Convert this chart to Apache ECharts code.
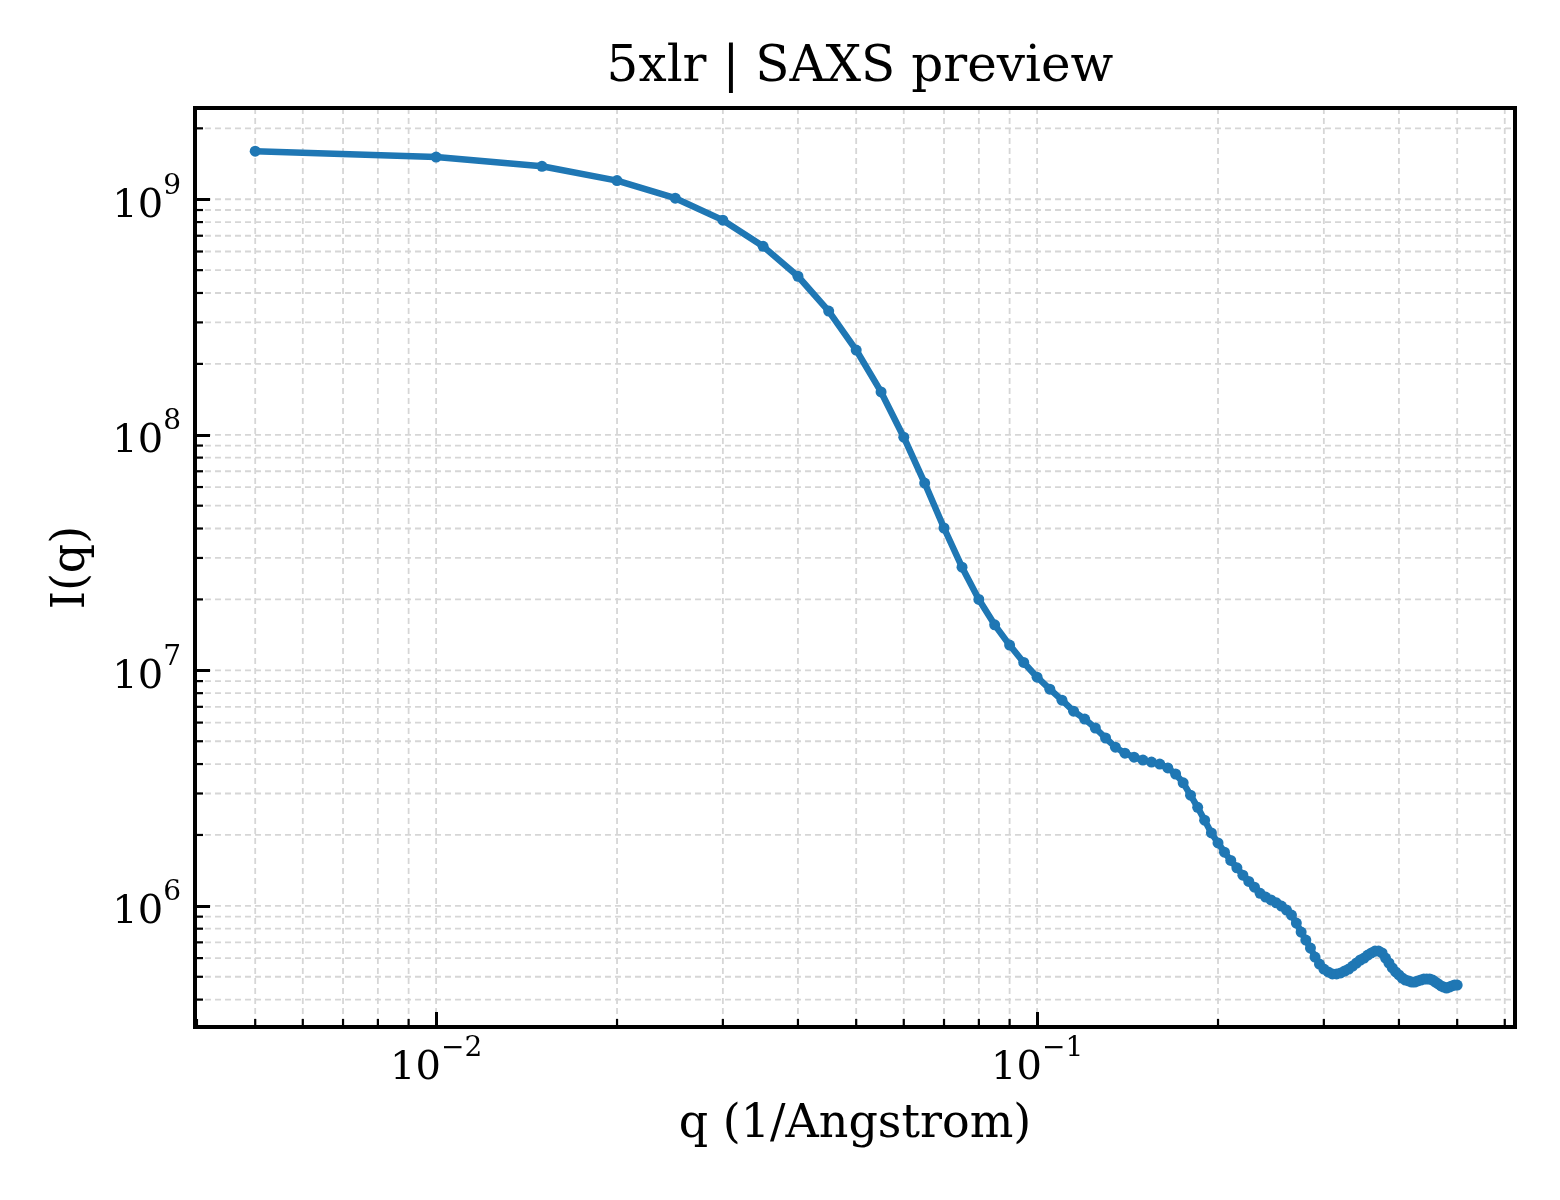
<!DOCTYPE html>
<html>
<head>
<meta charset="utf-8">
<script src="https://cdn.jsdelivr.net/npm/echarts@6/dist/echarts.min.js"></script>
<style>
html,body{margin:0;padding:0;background:#fff;}
#chart{width:1560px;height:1200px;}
</style>
</head>
<body>
<div id="chart"></div>
<script>
// ---- data ----
const qValues = [
  0.005,0.010,0.015,0.020,0.025,0.030,0.035,0.040,0.045,0.050,
  0.055,0.060,0.065,0.070,0.075,0.080,0.085,0.090,0.095,0.100,
  0.105,0.110,0.115,0.120,0.125,0.130,0.135,0.140,0.145,0.150,
  0.155,0.160,0.165,0.170,0.175,0.180,0.185,0.190,0.195,0.200,
  0.205,0.210,0.215,0.220,0.225,0.230,0.235,0.240,0.245,0.250,
  0.255,0.260,0.265,0.270,0.275,0.280,0.285,0.290,0.295,0.300,
  0.305,0.310,0.315,0.320,0.325,0.330,0.335,0.340,0.345,0.350,
  0.355,0.360,0.365,0.370,0.375,0.380,0.385,0.390,0.395,0.400,
  0.405,0.410,0.415,0.420,0.425,0.430,0.435,0.440,0.445,0.450,
  0.455,0.460,0.465,0.470,0.475,0.480,0.485,0.490,0.495,0.500
];
const intensity = [
  1.60e9,1.51e9,1.38e9,1.20e9,1.01e9,8.15e8,6.31e8,4.71e8,3.35e8,2.29e8,
  1.52e8,9.77e7,6.24e7,4.02e7,2.74e7,2.00e7,1.56e7,1.28e7,1.08e7,9.35e6,
  8.32e6,7.47e6,6.71e6,6.21e6,5.69e6,5.16e6,4.72e6,4.45e6,4.28e6,4.16e6,
  4.08e6,4.00e6,3.85e6,3.63e6,3.33e6,2.95e6,2.62e6,2.31e6,2.04e6,1.85e6,
  1.69e6,1.56e6,1.45e6,1.35e6,1.27e6,1.20e6,1.13e6,1.09e6,1.06e6,1.03e6,
  9.98e5,9.60e5,9.14e5,8.45e5,7.74e5,7.16e5,6.62e5,6.06e5,5.66e5,5.39e5,
  5.24e5,5.14e5,5.14e5,5.19e5,5.29e5,5.39e5,5.55e5,5.72e5,5.89e5,6.00e5,
  6.18e5,6.31e5,6.43e5,6.43e5,6.31e5,6.00e5,5.72e5,5.45e5,5.24e5,5.09e5,
  4.94e5,4.84e5,4.80e5,4.75e5,4.75e5,4.80e5,4.84e5,4.89e5,4.89e5,4.89e5,
  4.84e5,4.75e5,4.66e5,4.57e5,4.52e5,4.48e5,4.52e5,4.57e5,4.61e5,4.61e5
];
const xMajorTicks = [0.01, 0.1];
const yMajorTicks = [1e6, 1e7, 1e8, 1e9];
const xMinorTicks = [0.004,0.005,0.006,0.007,0.008,0.009,
  0.02,0.03,0.04,0.05,0.06,0.07,0.08,0.09,
  0.2,0.3,0.4,0.5,0.6];
const yMinorTicks = [4e5,5e5,6e5,7e5,8e5,9e5,
  2e6,3e6,4e6,5e6,6e6,7e6,8e6,9e6,
  2e7,3e7,4e7,5e7,6e7,7e7,8e7,9e7,
  2e8,3e8,4e8,5e8,6e8,7e8,8e8,9e8,
  2e9];
const xRange = [0.00397, 0.624];
const yRange = [3.06e5, 2.44e9];
const titleText = '5xlr | SAXS preview';
const xLabel = 'q (1/Angstrom)';
const yLabel = 'I(q)';

// ---- build options ----
const FONT = 'DejaVu Serif';
const GRID = {left: 195, right: 45, top: 108, bottom: 173};
const lineData = qValues.map((q, i) => [q, intensity[i]]);
const gridItems = [];
xMajorTicks.forEach(v => gridItems.push([v, 1e7, 0, 1]));
xMinorTicks.forEach(v => gridItems.push([v, 1e7, 0, 0]));
yMajorTicks.forEach(v => gridItems.push([0.05, v, 1, 1]));
yMinorTicks.forEach(v => gridItems.push([0.05, v, 1, 0]));

function powLabel(value) {
  const e = Math.log10(value);
  const r = Math.round(e);
  if (Math.abs(e - r) > 1e-6) return '';
  const s = r < 0 ? '\u2212' + Math.abs(r) : String(r);
  return '{b|10}{s|' + s + '}';
}
const richLabel = {
  b: {fontFamily: FONT, fontSize: 40, color: '#000', lineHeight: 54, verticalAlign: 'bottom'},
  s: {fontFamily: FONT, fontSize: 28, color: '#000', lineHeight: 28, verticalAlign: 'top'}
};

function renderGrid(params, api) {
  const cs = params.coordSys;
  const kind = api.value(2);
  const major = api.value(3);
  const dash = {stroke: '#d6d6d6', lineWidth: 1.8, lineDash: [6, 4], fill: null};
  const tick = {stroke: '#000', lineWidth: 2.2, fill: null};
  const children = [];
  if (kind === 0) {
    const x = api.coord([api.value(0), api.value(1)])[0];
    const b = cs.y + cs.height;
    if (x - cs.x > 3 && cs.x + cs.width - x > 3) {
      children.push({type: 'line', shape: {x1: x, y1: cs.y, x2: x, y2: b}, style: dash});
    }
    if (!major) children.push({type: 'line', shape: {x1: x, y1: b, x2: x, y2: b - 8}, style: tick});
  } else {
    const y = api.coord([api.value(0), api.value(1)])[1];
    if (y - cs.y > 3 && cs.y + cs.height - y > 3) {
      children.push({type: 'line', shape: {x1: cs.x, y1: y, x2: cs.x + cs.width, y2: y}, style: dash});
    }
    if (!major) children.push({type: 'line', shape: {x1: cs.x, y1: y, x2: cs.x + 8, y2: y}, style: tick});
  }
  return {type: 'group', children: children};
}

const option = {
  animation: false,
  backgroundColor: '#fff',
  title: {
    text: titleText,
    left: GRID.left + (1560 - GRID.left - GRID.right) / 2,
    textAlign: 'center',
    top: 38,
    textStyle: {fontFamily: FONT, fontSize: 50, fontWeight: 'normal', color: '#000'}
  },
  grid: {
    left: GRID.left, right: GRID.right, top: GRID.top, bottom: GRID.bottom,
    show: true, borderColor: '#000', borderWidth: 4, backgroundColor: 'transparent'
  },
  xAxis: {
    type: 'log', logBase: 10, min: xRange[0], max: xRange[1],
    name: xLabel, nameLocation: 'middle', nameGap: 75,
    nameTextStyle: {fontFamily: FONT, fontSize: 46, color: '#000'},
    axisLine: {show: false},
    axisTick: {show: true, inside: true, length: 15, lineStyle: {color: '#000', width: 3}},
    axisLabel: {formatter: powLabel, rich: richLabel, margin: 8, showMinLabel: false, showMaxLabel: false},
    splitLine: {show: false},
    minorTick: {show: false}
  },
  yAxis: {
    type: 'log', logBase: 10, min: yRange[0], max: yRange[1],
    name: yLabel, nameLocation: 'middle', nameGap: 100, nameRotate: 90,
    nameTextStyle: {fontFamily: FONT, fontSize: 46, color: '#000'},
    axisLine: {show: false},
    axisTick: {show: true, inside: true, length: 15, lineStyle: {color: '#000', width: 3}},
    axisLabel: {formatter: powLabel, rich: richLabel, margin: 14, showMinLabel: false, showMaxLabel: false},
    splitLine: {show: false},
    minorTick: {show: false}
  },
  series: [
    {
      type: 'custom',
      z: -1,
      silent: true,
      renderItem: renderGrid,
      encode: {x: 0, y: 1},
      data: gridItems
    },
    {
      type: 'line',
      z: 3,
      data: lineData,
      symbol: 'circle',
      symbolSize: 11,
      showAllSymbol: true,
      lineStyle: {color: '#1f77b4', width: 6.5},
      itemStyle: {color: '#1f77b4'}
    }
  ]
};
const chart = echarts.init(document.getElementById('chart'));
chart.setOption(option);
</script>
</body>
</html>
